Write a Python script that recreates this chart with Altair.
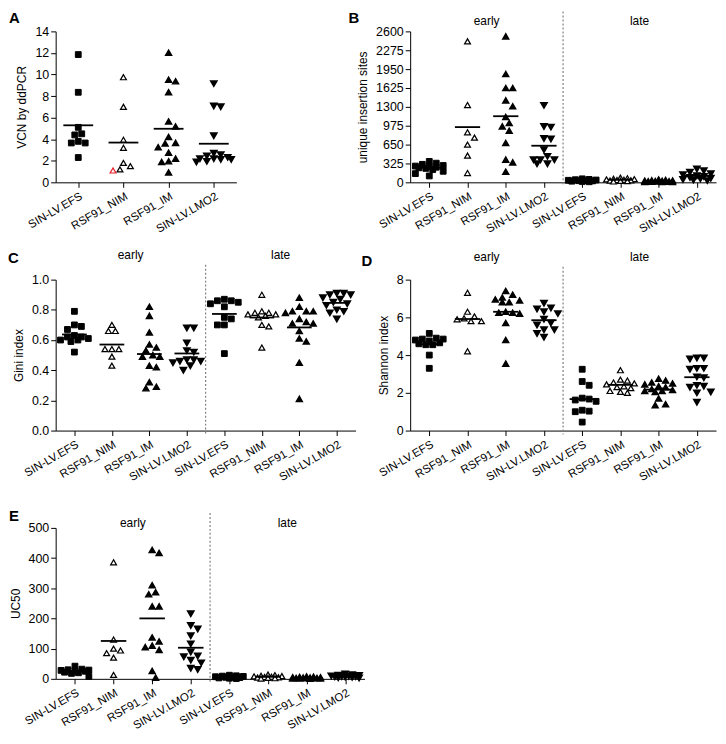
import altair as alt
import pandas as pd

VECTORS = ["SIN-LV.EFS", "RSF91_NIM", "RSF91_IM", "SIN-LV.LMO2"]
PHASES = ["early", "late"]

# ---- A: VCN by ddPCR ----
A_EFS = [11.85, 8.35, 5.1, 4.5, 4.4, 3.8, 3.65, 3.65, 2.3]
A_NIM = [9.75, 7.0, 3.95, 3.2, 1.8, 1.5, 1.2, 1.1]
A_NIM_HIGHLIGHT = [7]  # index of the sample drawn in red
A_IM = [12.02, 9.52, 9.37, 8.36, 5.64, 5.18, 4.21, 3.66, 3.6, 3.26, 2.75, 2.2, 1.95, 1.89, 0.92]
A_LMO2 = [9.16, 7.08, 7.02, 4.33, 2.71, 2.56, 2.44, 2.32, 2.2, 2.2, 2.13, 2.13, 1.95, 1.89]

# ---- B: unique insertion sites ----
B_EARLY_EFS = [360, 330, 310, 290, 280, 270, 260, 250, 240, 220, 190, 150, 110]
B_EARLY_NIM = [2428, 1331, 861, 770, 649, 460, 161]
B_EARLY_IM = [2514, 1865, 1624, 1624, 1412, 1309, 1125, 1021, 964, 890, 677, 391, 344, 184]
B_EARLY_LMO2 = [1326, 963, 952, 757, 746, 562, 448, 390, 390, 390, 321, 321]
B_LATE_EFS = [60, 50, 45, 40, 35, 30, 28, 25, 20, 15, 10]
B_LATE_NIM = [80, 70, 60, 55, 50, 45, 40, 35, 30, 25, 20, 15]
B_LATE_IM = [50, 40, 35, 30, 28, 25, 22, 20, 18, 15, 12, 10, 8, 6, 5]
B_LATE_LMO2 = [230, 200, 175, 150, 130, 115, 100, 85, 70, 60, 50, 40, 30]

# ---- C: Gini index ----
C_EARLY_EFS = [0.79, 0.70, 0.69, 0.67, 0.63, 0.62, 0.62, 0.61, 0.60, 0.60, 0.59, 0.52]
C_EARLY_NIM = [0.70, 0.66, 0.66, 0.54, 0.54, 0.54, 0.49, 0.43]
C_EARLY_IM = [0.82, 0.76, 0.65, 0.57, 0.55, 0.53, 0.50, 0.49, 0.49, 0.43, 0.42, 0.32, 0.29, 0.28]
C_EARLY_LMO2 = [0.68, 0.68, 0.58, 0.53, 0.52, 0.47, 0.47, 0.46, 0.46, 0.45, 0.43, 0.40]
C_LATE_EFS = [0.87, 0.86, 0.86, 0.85, 0.84, 0.82, 0.75, 0.74, 0.70, 0.70, 0.51]
C_LATE_NIM = [0.90, 0.79, 0.78, 0.78, 0.77, 0.77, 0.76, 0.75, 0.70, 0.69, 0.55]
C_LATE_IM = [0.88, 0.82, 0.79, 0.79, 0.79, 0.78, 0.74, 0.72, 0.71, 0.71, 0.66, 0.61, 0.59, 0.45, 0.21]
C_LATE_LMO2 = [0.91, 0.91, 0.90, 0.90, 0.88, 0.87, 0.85, 0.84, 0.83, 0.80, 0.79, 0.78, 0.74]

# ---- D: Shannon index ----
D_EARLY_EFS = [5.15, 4.9, 4.85, 4.85, 4.8, 4.75, 4.65, 4.6, 4.55, 4.55, 4.0, 3.3]
D_EARLY_NIM = [7.3, 6.3, 6.05, 5.95, 5.9, 5.8, 5.8, 4.2]
D_EARLY_IM = [7.4, 7.2, 7.05, 6.95, 6.9, 6.8, 6.8, 6.3, 6.25, 6.25, 6.2, 5.7, 4.8, 3.55]
D_EARLY_LMO2 = [6.75, 6.5, 6.45, 6.3, 6.2, 5.9, 5.7, 5.6, 5.35, 5.35, 5.15, 4.95]
D_LATE_EFS = [3.25, 2.6, 2.4, 1.72, 1.67, 1.62, 1.55, 1.08, 1.03, 1.0, 0.45]
D_LATE_NIM = [3.2, 2.7, 2.65, 2.55, 2.5, 2.45, 2.35, 2.3, 2.25, 2.1, 2.05, 2.0]
D_LATE_IM = [2.75, 2.65, 2.55, 2.5, 2.45, 2.35, 2.3, 2.2, 2.15, 2.1, 2.1, 2.05, 1.7, 1.4, 1.35]
D_LATE_LMO2 = [3.85, 3.85, 3.8, 3.3, 3.3, 3.25, 2.85, 2.8, 2.4, 2.35, 2.3, 2.05, 2.0, 1.5]

# ---- E: UC50 ----
E_EARLY_EFS = [42, 32, 30, 29, 28, 27, 25, 22, 20, 18, 8]
E_EARLY_NIM = [386, 130, 100, 94, 85, 70, 13]
E_EARLY_IM = [427, 417, 310, 287, 280, 240, 240, 137, 124, 110, 105, 96, 26, 4]
E_EARLY_LMO2 = [216, 177, 165, 143, 116, 89, 76, 73, 62, 53, 35, 31]
E_LATE_EFS = [12, 10, 9, 8, 7, 6, 5, 4, 3, 2, 1]
E_LATE_NIM = [14, 12, 10, 9, 8, 7, 6, 5, 4, 3, 2, 1]
E_LATE_IM = [8, 7, 6, 5, 5, 4, 4, 3, 3, 2, 2, 1, 1, 1, 0.5]
E_LATE_LMO2 = [16, 14, 12, 11, 10, 9, 8, 8, 7, 6, 5, 4, 3]

FONT = "Liberation Sans"
H = 152
COL2_W = 308


def swarm(vals, ppu, band, d=7.0):
    """Greedy beeswarm: horizontal pixel offsets so markers do not overlap."""
    maxoff = 0.42 * band
    step = d / 2.0
    cands = [0.0]
    m = 1
    while m * step <= maxoff:
        cands += [m * step, -m * step]
        m += 1
    placed = []
    offs = [0.0] * len(vals)
    order = sorted(range(len(vals)), key=lambda k: -vals[k])
    for k in order:
        y = vals[k] * ppu
        best, bestc, bestscore = None, 0.0, -1.0
        for c in cands:
            md = min([((c - px) ** 2 + (y - py) ** 2) ** 0.5 for px, py in placed], default=1e9)
            if md >= d:
                best = c
                break
            if md > bestscore:
                bestscore, bestc = md, c
        if best is None:
            best = bestc
        placed.append((best, y))
        offs[k] = best
    return offs


def panel(letter, groups, ymax, ystep, fmt, ytitle, width, phased,
          letter_pos, header_dy=None, sep_top=None, highlight=None):
    n = len(groups)
    ppu = H / ymax
    band = width / n
    rows = []
    for i, vals in enumerate(groups):
        offs = swarm(vals, ppu, band)
        for j, (v, o) in enumerate(zip(vals, offs)):
            red = 1 if (highlight and highlight[0] == i and j in highlight[1]) else 0
            rows.append(dict(xidx=i, xpos=i + o / band, value=v,
                             vector=VECTORS[i % 4], red=red))
    df = pd.DataFrame(rows)
    mdf = df.groupby("xidx", as_index=False)["value"].mean()
    mdf["x1"] = mdf["xidx"] - 0.33
    mdf["x2"] = mdf["xidx"] + 0.33

    names = [VECTORS[i % 4] for i in range(n)]
    label_expr = "[" + ",".join("'%s'" % s for s in names) + "][datum.value]"
    xscale = alt.Scale(domain=[-0.5, n - 0.5], nice=False, zero=False)
    yscale = alt.Scale(domain=[0, ymax], nice=False, zero=True)
    xaxis = alt.Axis(values=list(range(n)), labelExpr=label_expr, title=None,
                     labelAngle=-30, labelAlign="right", labelBaseline="top",
                     labelPadding=3, labelOverlap=False, tickSize=5, grid=False,
                     labelFontSize=11.5)
    ticks = [round(k * ystep, 6) for k in range(int(round(ymax / ystep)) + 1)]
    yaxis = alt.Axis(values=ticks, format=fmt, title=ytitle, grid=False,
                     tickSize=5, titlePadding=6, labelPadding=2, labelOverlap=False,
                     labelFontSize=12.5)

    def X(field):
        return alt.X(field, type="quantitative", scale=xscale, axis=xaxis)

    def Y(field):
        return alt.Y(field, type="quantitative", scale=yscale, axis=yaxis)

    pts = alt.Chart(df).mark_point(opacity=1, fillOpacity=1).encode(
        x=X("xpos"),
        y=Y("value"),
        shape=alt.Shape("vector:N", scale=alt.Scale(
            domain=VECTORS, range=["square", "triangle-up", "triangle-up", "triangle-down"]),
            legend=None),
        fill=alt.Fill("vector:N", scale=alt.Scale(
            domain=VECTORS, range=["black", "white", "black", "black"]), legend=None),
        size=alt.Size("vector:N", scale=alt.Scale(
            domain=VECTORS, range=[34, 36, 30, 30]), legend=None),
        strokeWidth=alt.StrokeWidth("vector:N", scale=alt.Scale(
            domain=VECTORS, range=[1.0, 1.7, 1.0, 1.0]), legend=None),
        stroke=alt.condition("datum.red == 1", alt.value("#e8202a"), alt.value("black")),
    )
    mean = alt.Chart(mdf).mark_rule(color="black", strokeWidth=1.8).encode(
        x=X("x1"), x2="x2:Q", y=Y("value"))
    lx, ly = letter_pos
    let = alt.Chart(pd.DataFrame({"letter": [letter]})).mark_text(
        align="left", baseline="top", fontSize=15, fontWeight="bold", color="black"
    ).encode(text="letter:N", x=alt.value(lx), y=alt.value(ly))
    layers = [pts, mean, let]
    if phased:
        nv = len(VECTORS)
        sep = alt.Chart(pd.DataFrame({"sep": [nv - 0.5]})).mark_rule(
            color="#808080", strokeDash=[2, 2], strokeWidth=1.2
        ).encode(x=X("sep"), y=alt.value(sep_top), y2=alt.value(H + 4))
        hdr = alt.Chart(pd.DataFrame({
            "phase": PHASES,
            "hx": [(nv - 1) / 2 + k * nv for k in range(len(PHASES))]})
        ).mark_text(fontSize=12, baseline="middle", color="black").encode(
            x=X("hx"), y=alt.value(header_dy), text="phase:N")
        layers = [sep, pts, mean, hdr, let]
    return alt.layer(*layers).properties(width=width, height=H)


pA = panel("A", [A_EFS, A_NIM, A_IM, A_LMO2], 14, 2, "d", "VCN by ddPCR", 182,
           False, (-47, -20), highlight=(1, A_NIM_HIGHLIGHT))
pB = panel("B", [B_EARLY_EFS, B_EARLY_NIM, B_EARLY_IM, B_EARLY_LMO2,
                 B_LATE_EFS, B_LATE_NIM, B_LATE_IM, B_LATE_LMO2],
           2600, 325, "d", "unique insertion sites", COL2_W, True, (-62, -20),
           header_dy=-10, sep_top=-20)
pC = panel("C", [C_EARLY_EFS, C_EARLY_NIM, C_EARLY_IM, C_EARLY_LMO2,
                 C_LATE_EFS, C_LATE_NIM, C_LATE_IM, C_LATE_LMO2],
           1.0, 0.2, ".1f", "Gini index", 302, True, (-48, -29),
           header_dy=-25, sep_top=-15)
pD = panel("D", [D_EARLY_EFS, D_EARLY_NIM, D_EARLY_IM, D_EARLY_LMO2,
                 D_LATE_EFS, D_LATE_NIM, D_LATE_IM, D_LATE_LMO2],
           8, 2, "d", "Shannon index", COL2_W, True, (-49, -26),
           header_dy=-23, sep_top=-13)
pE = panel("E", [E_EARLY_EFS, E_EARLY_NIM, E_EARLY_IM, E_EARLY_LMO2,
                 E_LATE_EFS, E_LATE_NIM, E_LATE_IM, E_LATE_LMO2],
           500, 100, "d", "UC50", 311, True, (-47, -19),
           header_dy=-5, sep_top=-15)

chart = alt.concat(
    pA, pB, pC, pD, pE, columns=2, bounds="flush", align="all",
    spacing={"row": 98, "column": 46},
).properties(padding=0).configure(font=FONT).configure_view(stroke=None).configure_axis(
    domainColor="black", tickColor="black", labelColor="black", titleColor="black",
    domainWidth=1, tickWidth=1, labelFont=FONT, titleFont=FONT,
    labelFontSize=12, titleFontSize=12, titleFontWeight="normal",
)

chart.save("out.html", embed_options={"renderer": "svg", "actions": False})
